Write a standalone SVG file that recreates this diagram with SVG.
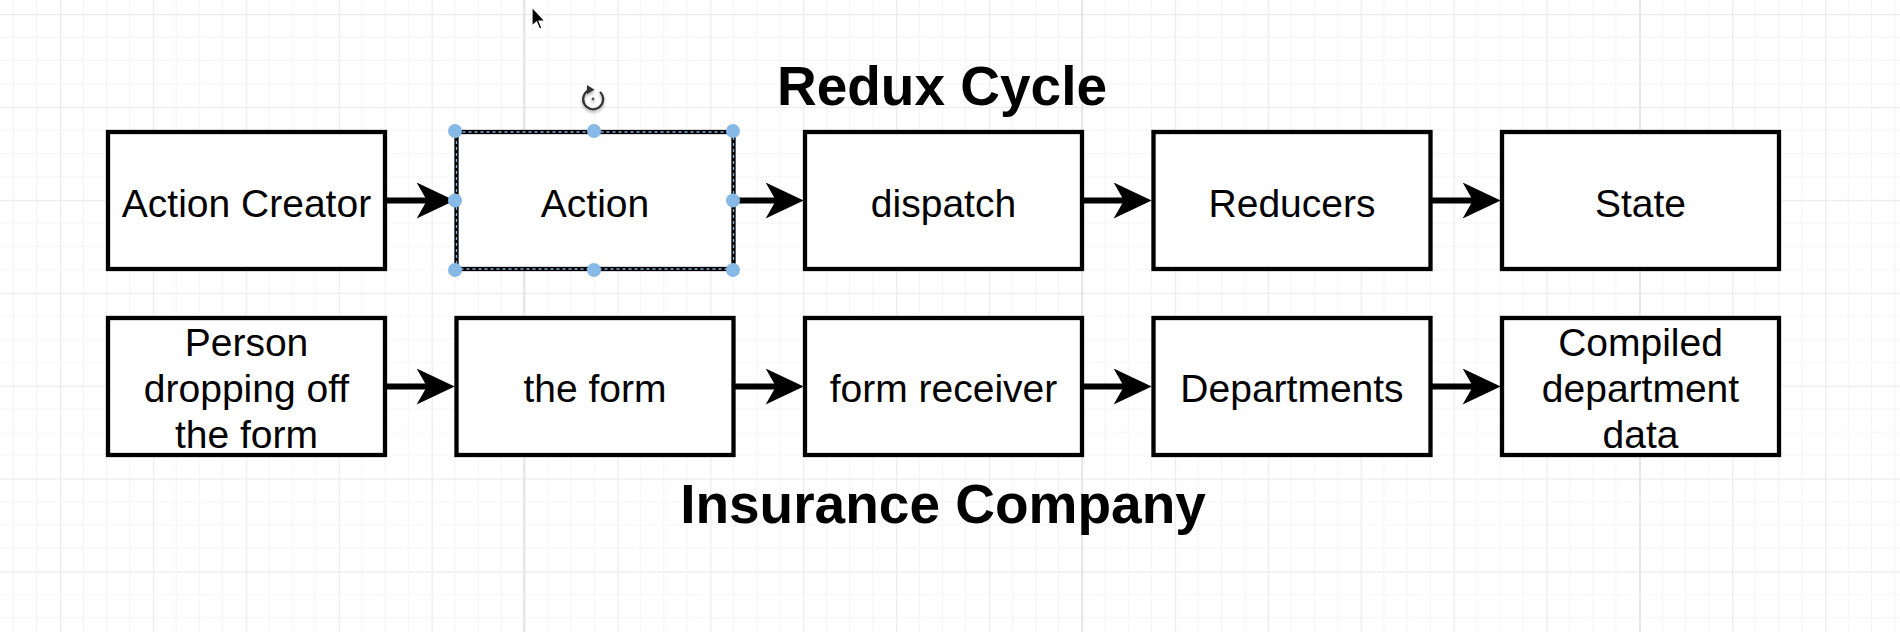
<svg xmlns="http://www.w3.org/2000/svg" width="1900" height="632" viewBox="0 0 1900 632">
<style>
.box{fill:#ffffff;stroke:#000000;stroke-width:4.3}
.lbl{font-family:"Liberation Sans",Arial,Helvetica,sans-serif;font-size:39px;fill:#000000;text-anchor:middle}
.title{font-family:"Liberation Sans",Arial,Helvetica,sans-serif;font-size:55px;font-weight:bold;fill:#000000;text-anchor:middle}
.conn{stroke:#000000;stroke-width:6;fill:none;marker-end:url(#arr)}
.handle{fill:#86b9e6}
</style>
<defs>
<pattern id="grid" width="92.9" height="92.9" patternUnits="userSpaceOnUse" x="60" y="14">
<path d="M23.22 0V92.9M46.45 0V92.9M69.67 0V92.9M0 23.22H92.9M0 46.45H92.9M0 69.67H92.9" stroke="#f5f5f5" stroke-width="1.2" fill="none"/>
<path d="M0.5 0V92.9M0 0.5H92.9" stroke="#ebebeb" stroke-width="1.5" fill="none"/>
</pattern>
<marker id="arr" markerUnits="userSpaceOnUse" markerWidth="40" markerHeight="36" viewBox="0 0 37 35" refX="13" refY="17.5" orient="auto">
<path d="M0 0L37 17.5L0 35L10 17.5Z" fill="#000000"/>
</marker>
<filter id="sh" x="-50%" y="-50%" width="200%" height="200%">
<feGaussianBlur in="SourceAlpha" stdDeviation="1.5"/>
<feOffset dy="2"/>
<feComponentTransfer><feFuncA type="linear" slope="0.35"/></feComponentTransfer>
<feMerge><feMergeNode/><feMergeNode in="SourceGraphic"/></feMerge>
</filter>
</defs>
<rect width="1900" height="632" fill="#ffffff"/>
<rect width="1900" height="632" fill="url(#grid)"/>
<path d="M524 0V632M1082 0V632M1640 0V632" stroke="#e2e2e2" stroke-width="1.5"/>

<text class="title" x="942" y="105">Redux Cycle</text>
<text class="title" x="943" y="523">Insurance Company</text>

<g id="connectors">
<line class="conn" x1="387" y1="200.5" x2="430" y2="200.5"/>
<line class="conn" x1="735" y1="200.5" x2="779" y2="200.5"/>
<line class="conn" x1="1084" y1="200.5" x2="1127" y2="200.5"/>
<line class="conn" x1="1432" y1="200.5" x2="1476" y2="200.5"/>
<line class="conn" x1="387" y1="386.5" x2="430" y2="386.5"/>
<line class="conn" x1="735" y1="386.5" x2="779" y2="386.5"/>
<line class="conn" x1="1084" y1="386.5" x2="1127" y2="386.5"/>
<line class="conn" x1="1432" y1="386.5" x2="1476" y2="386.5"/>
</g>

<g id="action-creator"><rect class="box" x="108" y="132" width="277" height="137"/><text class="lbl" x="246.5" y="217">Action Creator</text></g>
<g id="action">
<rect class="box" x="456.5" y="132" width="277" height="137"/>
<rect x="456.5" y="132" width="277" height="137" fill="none" stroke="#7fb0de" stroke-width="1.3" stroke-dasharray="3 3"/>
<text class="lbl" x="595" y="217">Action</text>
<circle class="handle" cx="455" cy="131" r="7"/><circle class="handle" cx="594" cy="131" r="7"/><circle class="handle" cx="733" cy="131" r="7"/>
<circle class="handle" cx="455" cy="200.5" r="7"/><circle class="handle" cx="733" cy="200.5" r="7"/>
<circle class="handle" cx="455" cy="270" r="7"/><circle class="handle" cx="594" cy="270" r="7"/><circle class="handle" cx="733" cy="270" r="7"/>
<g filter="url(#sh)">
<path d="M600 92A10 10 0 1 1 590.5 89.6" fill="none" stroke="#333333" stroke-width="2.2"/>
<path d="M587 85L594.5 89.8L587 94Z" fill="#333333"/>
<circle cx="593" cy="99" r="1.4" fill="#555555"/>
</g>
</g>
<g id="dispatch"><rect class="box" x="805" y="132" width="277" height="137"/><text class="lbl" x="943.5" y="217">dispatch</text></g>
<g id="reducers"><rect class="box" x="1153.5" y="132" width="277" height="137"/><text class="lbl" x="1292" y="217">Reducers</text></g>
<g id="state"><rect class="box" x="1502" y="132" width="277" height="137"/><text class="lbl" x="1640.5" y="217">State</text></g>

<g id="person"><rect class="box" x="108" y="318" width="277" height="137"/><text class="lbl" x="246.5" y="356">Person</text><text class="lbl" x="246.5" y="402">dropping off</text><text class="lbl" x="246.5" y="448">the form</text></g>
<g id="the-form"><rect class="box" x="456.5" y="318" width="277" height="137"/><text class="lbl" x="595" y="402">the form</text></g>
<g id="form-receiver"><rect class="box" x="805" y="318" width="277" height="137"/><text class="lbl" x="943.5" y="402">form receiver</text></g>
<g id="departments"><rect class="box" x="1153.5" y="318" width="277" height="137"/><text class="lbl" x="1292" y="402">Departments</text></g>
<g id="compiled"><rect class="box" x="1502" y="318" width="277" height="137"/><text class="lbl" x="1640.5" y="356">Compiled</text><text class="lbl" x="1640.5" y="402">department</text><text class="lbl" x="1640.5" y="448">data</text></g>

<path d="M532 7L532 26L536.5 22L539.5 29L542 28L539 21L545 21Z" fill="#000000" stroke="#ffffff" stroke-width="1.2"/>
</svg>
